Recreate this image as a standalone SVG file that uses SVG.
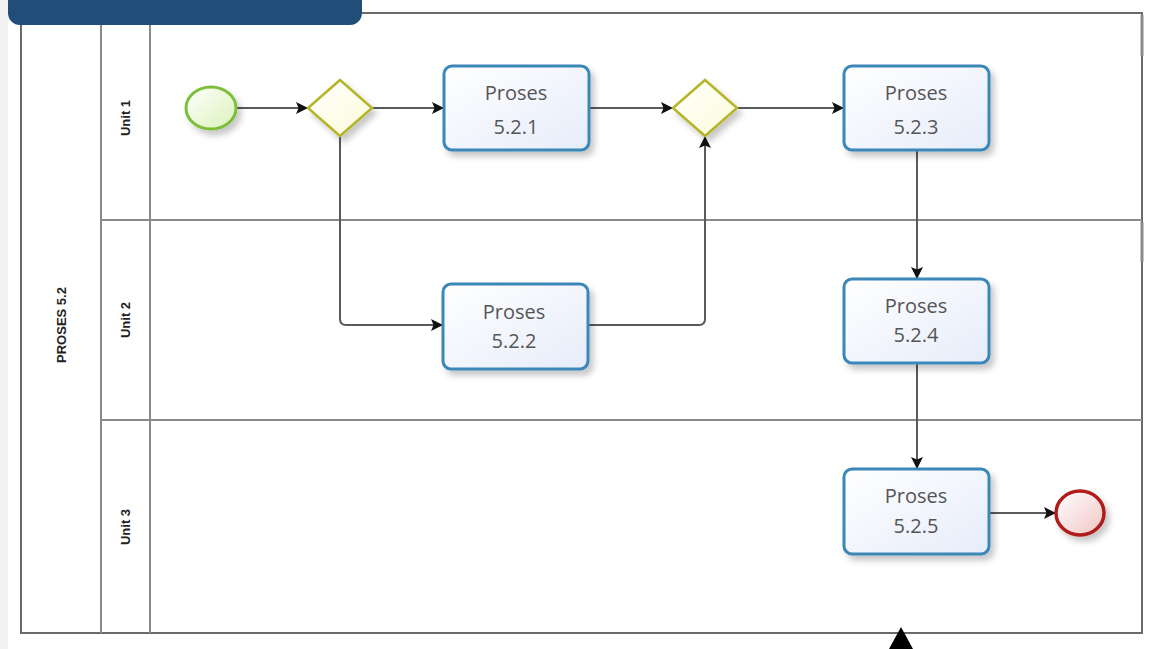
<svg xmlns="http://www.w3.org/2000/svg" width="1160" height="649" viewBox="0 0 1160 649">
<style>
.lane{fill:none;stroke:#8a8a8a;stroke-width:2}
.pool{fill:none;stroke:#6a6a6a;stroke-width:2}
.task{stroke:#3a87b8;stroke-width:3;fill:url(#gTask)}
.tt{font-family:"Open Sans","Noto Sans",sans-serif;font-size:20px;fill:#555;text-anchor:middle}
.lt{font-family:"Liberation Sans",Arial,sans-serif;font-size:13px;font-weight:bold;fill:#222;text-anchor:middle}
.gw{fill:url(#gGw);stroke:#b5b52a;stroke-width:2.5}
.cn{fill:none;stroke:#5a5a5a;stroke-width:2;marker-end:url(#ah)}
</style>
<defs>
<linearGradient id="gTask" x1="0" y1="0" x2="1" y2="1"><stop offset="0" stop-color="#ffffff"/><stop offset="1" stop-color="#e6ecfa"/></linearGradient>
<linearGradient id="gGw" x1="0" y1="0" x2="1" y2="1"><stop offset="0" stop-color="#ffffff"/><stop offset="1" stop-color="#fbfbd8"/></linearGradient>
<linearGradient id="gStart" x1="0" y1="0" x2="1" y2="1"><stop offset="0" stop-color="#ffffff"/><stop offset="1" stop-color="#daf2b8"/></linearGradient>
<linearGradient id="gEnd" x1="0" y1="0" x2="1" y2="1"><stop offset="0" stop-color="#ffffff"/><stop offset="1" stop-color="#f2c4c4"/></linearGradient>
<filter id="sh" x="-20%" y="-20%" width="150%" height="150%"><feDropShadow dx="4" dy="5" stdDeviation="3" flood-color="#000" flood-opacity="0.22"/></filter>
<marker id="ah" markerWidth="12" markerHeight="12" refX="11" refY="6" orient="auto" markerUnits="userSpaceOnUse"><path d="M0,0 L12,6 L0,12 L2.5,6 Z" fill="#111"/></marker>
</defs>
<rect x="0" y="0" width="1160" height="649" fill="#ffffff"/>
<rect x="0" y="0" width="8" height="649" fill="#f1f1f1"/>
<g id="pool">
<path class="pool" d="M362,13 H1142 V633 H21 V13"/>
<line class="lane" x1="101" y1="13" x2="101" y2="633"/>
<line class="lane" x1="150" y1="13" x2="150" y2="633"/>
<line class="lane" x1="101" y1="220" x2="1142" y2="220"/>
<line class="lane" x1="101" y1="420" x2="1142" y2="420"/>
<line x1="1142" y1="15" x2="1142" y2="56" stroke="#8a8a8a" stroke-width="3"/>
<line x1="1142" y1="222" x2="1142" y2="262" stroke="#8a8a8a" stroke-width="3"/>
<text class="lt" transform="translate(66,325) rotate(-90)">PROSES 5.2</text>
<text class="lt" transform="translate(130,118) rotate(-90)">Unit 1</text>
<text class="lt" transform="translate(130,320) rotate(-90)">Unit 2</text>
<text class="lt" transform="translate(130,527) rotate(-90)">Unit 3</text>
</g>
<rect id="header" x="8" y="-20" width="354" height="45" rx="12" fill="#204e78"/>
<g id="connectors">
<path class="cn" d="M236,108 H307"/>
<path class="cn" d="M372,108 H443"/>
<path class="cn" d="M340,136 V319 Q340,325 346,325 H442"/>
<path class="cn" d="M589,108 H672"/>
<path class="cn" d="M588,325 H699 Q705,325 705,319 V137"/>
<path class="cn" d="M737,108 H843"/>
<path class="cn" d="M917,150 V278"/>
<path class="cn" d="M917,363 V468"/>
<path class="cn" d="M989,513 H1055"/>
</g>
<g id="start"><ellipse cx="211" cy="108" rx="25" ry="21" fill="url(#gStart)" stroke="#7dbf3c" stroke-width="3" filter="url(#sh)"/></g>
<g id="gw1"><polygon class="gw" points="308,108 340,80 372,108 340,136" filter="url(#sh)"/></g>
<g id="gw2"><polygon class="gw" points="673,108 705,80 737,108 705,136" filter="url(#sh)"/></g>
<g id="t521"><rect class="task" x="444" y="66" width="145" height="84" rx="8" filter="url(#sh)"/><text class="tt" x="516" y="100">Proses</text><text class="tt" x="516" y="134">5.2.1</text></g>
<g id="t523"><rect class="task" x="844" y="66" width="145" height="84" rx="8" filter="url(#sh)"/><text class="tt" x="916" y="100">Proses</text><text class="tt" x="916" y="134">5.2.3</text></g>
<g id="t522"><rect class="task" x="443" y="284" width="145" height="85" rx="8" filter="url(#sh)"/><text class="tt" x="514" y="319">Proses</text><text class="tt" x="514" y="348">5.2.2</text></g>
<g id="t524"><rect class="task" x="844" y="279" width="145" height="84" rx="8" filter="url(#sh)"/><text class="tt" x="916" y="313">Proses</text><text class="tt" x="916" y="342">5.2.4</text></g>
<g id="t525"><rect class="task" x="844" y="469" width="145" height="85" rx="8" filter="url(#sh)"/><text class="tt" x="916" y="503">Proses</text><text class="tt" x="916" y="533">5.2.5</text></g>
<g id="end"><ellipse cx="1080" cy="513" rx="24" ry="22" fill="url(#gEnd)" stroke="#b01e1e" stroke-width="3.5" filter="url(#sh)"/></g>
<polygon id="pointer" points="901,627 913,649 889,649" fill="#000"/>
</svg>
